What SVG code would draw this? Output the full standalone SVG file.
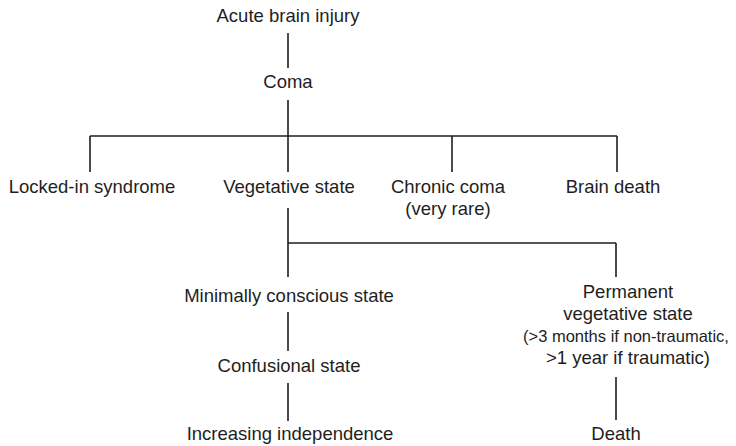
<svg xmlns="http://www.w3.org/2000/svg" width="736" height="446" viewBox="0 0 736 446">
<style>
text{font-family:"Liberation Sans",Arial,sans-serif;font-size:18.5px;fill:#1e1e1e;text-anchor:middle}
.c line{stroke:#1e1e1e;stroke-width:1.6;fill:none}
</style>
<rect width="736" height="446" fill="#fff"/>
<g id="connectors" class="c">
<line x1="288" y1="33" x2="288" y2="68"/>
<line x1="288" y1="100" x2="288" y2="172"/>
<line x1="90" y1="136" x2="617" y2="136"/>
<line x1="90" y1="136" x2="90" y2="172"/>
<line x1="452" y1="136" x2="452" y2="172"/>
<line x1="617" y1="136" x2="617" y2="172"/>
<line x1="288" y1="208" x2="288" y2="277"/>
<line x1="288" y1="243" x2="616" y2="243"/>
<line x1="616" y1="243" x2="616" y2="277"/>
<line x1="288" y1="312" x2="288" y2="351"/>
<line x1="288" y1="383" x2="288" y2="421"/>
<line x1="616" y1="377" x2="616" y2="420"/>
</g>
<g id="acute"><text x="288" y="22">Acute brain injury</text></g>
<g id="coma"><text x="288" y="88">Coma</text></g>
<g id="locked"><text x="92" y="193">Locked-in syndrome</text></g>
<g id="vegetative"><text x="289" y="193">Vegetative state</text></g>
<g id="chronic"><text x="448" y="193">Chronic coma</text><text x="448" y="215">(very rare)</text></g>
<g id="braindeath"><text x="613" y="193">Brain death</text></g>
<g id="mcs"><text x="289" y="302">Minimally conscious state</text></g>
<g id="confusional"><text x="289" y="372">Confusional state</text></g>
<g id="independence"><text x="290" y="440">Increasing independence</text></g>
<g id="pvs"><text x="628" y="298">Permanent</text><text x="628" y="320">vegetative state</text><text x="626" y="342" style="font-size:16.5px">(&gt;3 months if non-traumatic,</text><text x="628" y="364">&gt;1 year if traumatic)</text></g>
<g id="death"><text x="616" y="440">Death</text></g>
</svg>
